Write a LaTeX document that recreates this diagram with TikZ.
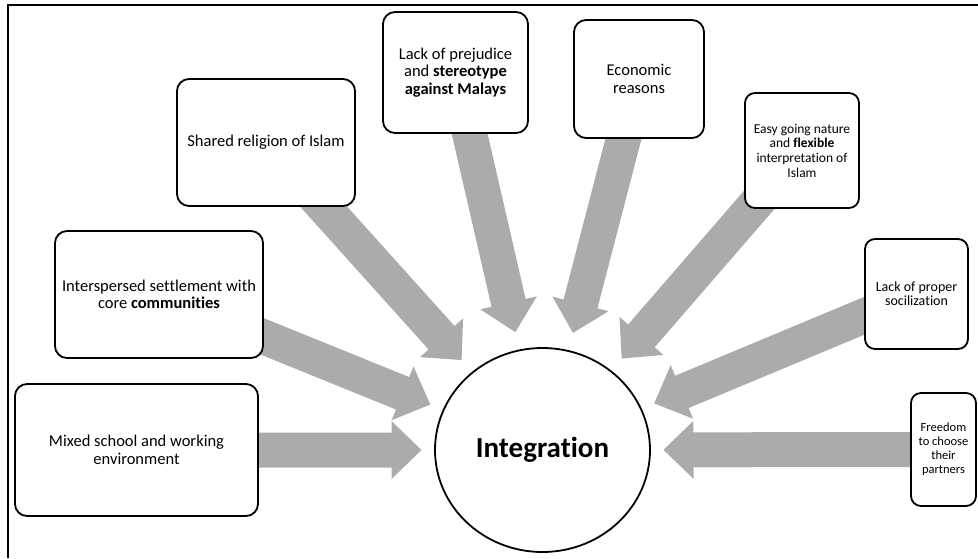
\documentclass[tikz,border=0pt]{standalone}
\usepackage{fontspec}
\setmainfont{Carlito}[Ligatures=NoCommon]
\usetikzlibrary{calc,backgrounds,shapes.geometric}
\definecolor{arrowgray}{HTML}{ABABAB}
\tikzset{
  box/.style={draw=black, line width=1.8pt, fill=white, rounded corners=12pt,
    inner sep=2pt, align=center, font=\fontsize{16.5}{17.5}\selectfont},
  smallbox/.style={box, rounded corners=10pt},
  hub/.style={draw=black, ellipse, line width=1.8pt, fill=white, inner sep=0pt,
    font=\fontsize{29}{30}\selectfont\bfseries},
  arrowfill/.style={fill=arrowgray},
  frameline/.style={draw=black, line width=1.3pt},
}
\newcommand\blockarrow[2]{%
  \coordinate (#1-t) at ($(#2)!121pt!(#1)$);
  \coordinate (#1-h) at ($(#2)!151pt!(#1)$);
  \fill[arrowfill] ($(#1)!17.5pt!90:(#2)$) -- ($(#1-h)!17.5pt!90:(#2)$)
    -- ($(#1-h)!29pt!90:(#2)$) -- (#1-t) -- ($(#1-h)!29pt!-90:(#2)$)
    -- ($(#1-h)!17.5pt!-90:(#2)$) -- ($(#1)!17.5pt!-90:(#2)$) -- cycle;
}
\begin{document}
\begin{tikzpicture}[x=1pt,y=-1pt]
\useasboundingbox (0,0) rectangle (978,558);
\draw[frameline] (8,558) -- (8,5) -- (978,5);

\node[box, minimum width=243pt, minimum height=132pt] (mix) at (136.5,450)
  {Mixed school and working\\environment};
\node[box, minimum width=208pt, minimum height=127pt] (inter) at (159,294.5)
  {Interspersed settlement with\\core \textbf{communities}};
\node[box, minimum width=178pt, minimum height=127pt] (shared) at (266,142.5)
  {Shared religion of Islam};
\node[box, minimum width=145pt, minimum height=121pt] (prej) at (455.5,72.5)
  {Lack of prejudice\\and \textbf{stereotype}\\\textbf{against Malays}};
\node[box, minimum width=130pt, minimum height=118pt] (econ) at (639,79)
  {Economic\\reasons};
\node[smallbox, minimum width=114pt, minimum height=115pt,
  font=\fontsize{13.5}{14.7}\selectfont] (easy) at (802,150.5)
  {Easy going nature\\and \textbf{flexible}\\interpretation of\\Islam};
\node[smallbox, minimum width=103pt, minimum height=110pt,
  font=\fontsize{14}{14}\selectfont] (lackp) at (916.5,294)
  {Lack of proper\\socilization};
\node[smallbox, minimum width=65pt, minimum height=113pt,
  font=\fontsize{12.5}{14}\selectfont] (free) at (943.5,449.5)
  {Freedom\\to choose\\their\\partners};

\node[hub, minimum width=215pt, minimum height=204pt] (c) at (542.5,450) {Integrat\kern0pt ion};

\begin{scope}[on background layer]
  \blockarrow{mix}{c}
  \blockarrow{inter}{c}
  \blockarrow{shared}{c}
  \blockarrow{prej}{c}
  \blockarrow{econ}{c}
  \blockarrow{easy}{c}
  \blockarrow{lackp}{c}
  \blockarrow{free}{c}
\end{scope}
\end{tikzpicture}
\end{document}
